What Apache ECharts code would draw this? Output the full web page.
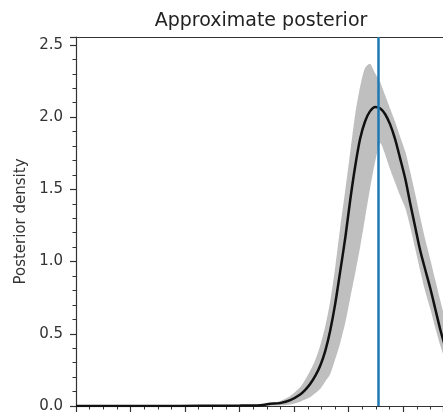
<!DOCTYPE html>
<html>
<head>
<meta charset="utf-8">
<script src="https://cdn.jsdelivr.net/npm/echarts@6/dist/echarts.min.js"></script>
<style>
html,body{margin:0;padding:0;background:#fff;}
#chart{width:443px;height:416px;}
</style>
</head>
<body>
<div id="chart"></div>
<script>
// ---- data ----
const titleText = 'Approximate posterior';
const yAxisName = 'Posterior density';
const xs = [0, 0.81, 1.54, 2.28, 3.01, 3.38, 3.56, 3.74, 3.93, 4.11, 4.20, 4.29, 4.39, 4.48, 4.57, 4.66, 4.75, 4.84, 4.94, 5.03,
            5.12, 5.21, 5.30, 5.39, 5.49, 5.58, 5.67, 5.76, 5.85, 5.94, 6.04, 6.13, 6.22, 6.31, 6.40, 6.50, 6.59, 6.68, 6.77, 6.86];
const meanDensity = [0, 0, 0, 0.001, 0.003, 0.006, 0.015, 0.02, 0.04, 0.08, 0.11, 0.15, 0.21, 0.28, 0.38, 0.52, 0.70, 0.92, 1.17, 1.43,
            1.66, 1.85, 1.97, 2.04, 2.07, 2.06, 2.02, 1.95, 1.85, 1.72, 1.57, 1.40, 1.24, 1.08, 0.95, 0.81, 0.67, 0.53, 0.41, 0.30];
const upperDensity = [0, 0, 0.001, 0.002, 0.005, 0.01, 0.02, 0.035, 0.07, 0.13, 0.18, 0.24, 0.32, 0.42, 0.55, 0.72, 0.95, 1.22, 1.50, 1.76,
            2.02, 2.21, 2.34, 2.37, 2.30, 2.24, 2.15, 2.06, 1.97, 1.87, 1.76, 1.62, 1.47, 1.31, 1.16, 1.01, 0.87, 0.73, 0.60, 0.48];
const lowerDensity = [0, 0, 0, 0, 0.001, 0.001, 0.002, 0.003, 0.01, 0.03, 0.045, 0.06, 0.09, 0.12, 0.17, 0.22, 0.32, 0.43, 0.58, 0.75,
            0.92, 1.10, 1.30, 1.50, 1.70, 1.82, 1.74, 1.64, 1.55, 1.46, 1.37, 1.24, 1.09, 0.94, 0.80, 0.67, 0.54, 0.42, 0.32, 0.24];
const trueValue = 5.54;
const yTicks = [0, 0.5, 1.0, 1.5, 2.0, 2.5];
const xMin = 0, xMax = 6.73, yMin = 0, yMax = 2.555;

// ---- build series ----
const meanData = xs.map((x, i) => [x, meanDensity[i]]);

const chart = echarts.init(document.getElementById('chart'), null, {renderer: 'canvas'});
const axisColor = '#333';
chart.setOption({
  animation: false,
  backgroundColor: '#fff',
  title: {
    text: titleText,
    left: 261,
    textAlign: 'center',
    top: 12,
    padding: 0,
    textStyle: {fontFamily: 'DejaVu Sans', fontSize: 19, fontWeight: 'normal', color: '#222'}
  },
  grid: {left: 76, top: 37, right: 0, bottom: 10, show: false},
  xAxis: [{
    type: 'value', min: xMin, max: xMax, interval: 1,
    axisLine: {show: true, onZero: false, lineStyle: {color: axisColor, width: 1.2}},
    axisTick: {show: true, inside: false, length: 6, lineStyle: {color: axisColor, width: 1.2}},
    minorTick: {show: true, splitNumber: 4, length: 3.5, lineStyle: {color: axisColor, width: 1}},
    axisLabel: {show: false},
    splitLine: {show: false}, minorSplitLine: {show: false}
  }, {
    type: 'value', position: 'top', min: xMin, max: xMax, interval: 1,
    axisLine: {show: true, onZero: false, lineStyle: {color: axisColor, width: 1.2}},
    axisTick: {show: false}, axisLabel: {show: false}, splitLine: {show: false}
  }],
  yAxis: {
    type: 'value', min: yMin, max: yMax, interval: 0.5,
    name: yAxisName, nameLocation: 'middle', nameGap: 47, nameRotate: 90,
    nameTextStyle: {fontFamily: 'DejaVu Sans', fontSize: 15, color: '#333'},
    axisLine: {show: true, onZero: false, lineStyle: {color: axisColor, width: 1.2}},
    axisTick: {show: true, inside: false, length: 6, lineStyle: {color: axisColor, width: 1.2}},
    minorTick: {show: true, splitNumber: 5, length: 3.5, lineStyle: {color: axisColor, width: 1}},
    axisLabel: {
      margin: 13, fontFamily: 'DejaVu Sans', fontSize: 15, color: '#333',
      showMaxLabel: false,
      formatter: v => yTicks.some(t => Math.abs(t - v) < 1e-6) ? v.toFixed(1) : ''
    },
    splitLine: {show: false}, minorSplitLine: {show: false}
  },
  series: [
    {
      type: 'custom', silent: true, z: 1, clip: true,
      data: [0],
      renderItem: function (params, api) {
        const pts = [];
        for (let i = 0; i < xs.length; i++) pts.push(api.coord([xs[i], upperDensity[i]]));
        for (let i = xs.length - 1; i >= 0; i--) pts.push(api.coord([xs[i], lowerDensity[i]]));
        return {
          type: 'polygon',
          shape: {points: pts, smooth: 0.25},
          style: {fill: '#bfbfbf', stroke: null}
        };
      }
    },
    {type: 'line', data: meanData, symbol: 'none', smooth: 0.3, lineStyle: {color: '#111', width: 2.5}, z: 3, silent: true,
     markLine: {silent: true, symbol: 'none', label: {show: false},
       lineStyle: {color: '#1f77b4', width: 2.5, type: 'solid'},
       data: [{xAxis: trueValue}], z: 5}}
  ]
});
</script>
</body>
</html>
